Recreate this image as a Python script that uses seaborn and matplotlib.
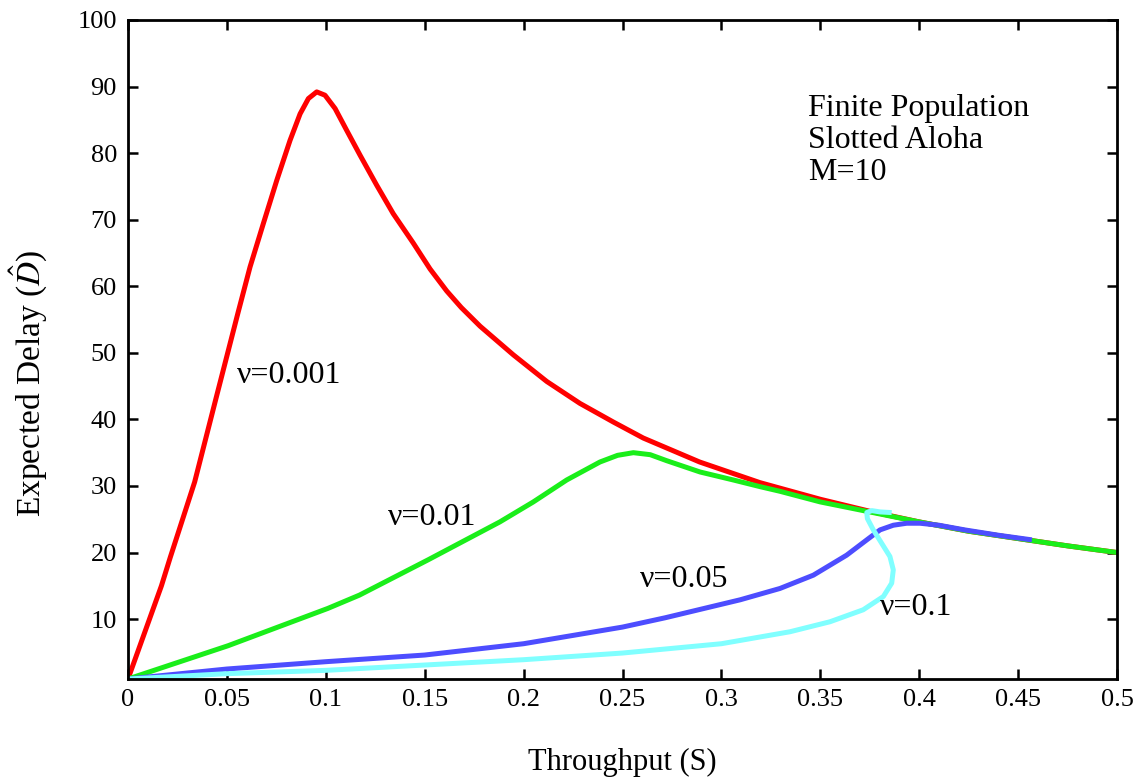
import matplotlib
matplotlib.use("Agg")
import matplotlib.pyplot as plt
import seaborn as sns
import pandas as pd

# ---- data ----
red_S = [0, 0.0169, 0.0214, 0.0337, 0.0447, 0.0556, 0.0617, 0.0684, 0.0752, 0.0819, 0.087,
         0.0912, 0.0954, 0.0996, 0.1047, 0.1106, 0.1173, 0.1257, 0.1341, 0.1442, 0.1527,
         0.1611, 0.1685, 0.178, 0.1948, 0.2117, 0.2285, 0.2454, 0.2605, 0.289, 0.3195, 0.35,
         0.375, 0.4, 0.425, 0.45, 0.475, 0.5]
red_D = [1, 15.0, 19.3, 30.6, 43.4, 56, 62.9, 69.4, 75.9, 81.9, 85.9,
         88.2, 89.2, 88.7, 86.7, 83.4, 79.7, 75.2, 70.9, 66.5, 62.6,
         59.3, 56.8, 54.0, 49.7, 45.7, 42.4, 39.6, 37.2, 33.6, 30.5, 28.0,
         26.2, 24.6, 23.2, 22.1, 21.0, 20.0]

green_S = [0, 0.0506, 0.101, 0.117, 0.1517, 0.188, 0.2049, 0.2218, 0.2386, 0.2475, 0.2555,
           0.264, 0.2723, 0.2892, 0.306, 0.3195, 0.3296, 0.35, 0.375, 0.4, 0.425, 0.45,
           0.475, 0.5]
green_D = [1, 6.0, 11.6, 13.6, 18.9, 24.6, 27.6, 30.9, 33.6, 34.6, 35.0,
           34.7, 33.8, 32.1, 30.9, 29.9, 29.2, 27.6, 26.1, 24.6, 23.2, 22.1,
           21.0, 20.0]

blue_S = [0, 0.05, 0.1, 0.15, 0.2, 0.25, 0.2716, 0.3095, 0.3296, 0.3465, 0.3633, 0.3735,
          0.3802, 0.3869, 0.3937, 0.4004, 0.41, 0.423, 0.44, 0.457]
blue_D = [1, 2.5, 3.6, 4.6, 6.3, 8.8, 10.2, 12.9, 14.6, 16.6, 19.6, 21.9,
          23.4, 24.1, 24.4, 24.4, 24.1, 23.4, 22.6, 21.9]

cyan_S = [0, 0.05, 0.1, 0.15, 0.2, 0.25, 0.3, 0.3347, 0.3549, 0.3717, 0.3819, 0.3861,
          0.3869, 0.3852, 0.381, 0.3768, 0.3738, 0.3735, 0.376, 0.3802, 0.3861]
cyan_D = [1, 1.8, 2.3, 3.1, 3.9, 4.9, 6.3, 8.1, 9.6, 11.4, 13.4, 15.4,
          17.4, 19.4, 21.4, 23.4, 25.1, 26.0, 26.3, 26.1, 26.0]

series_names = ["ν=0.001", "ν=0.01", "ν=0.05", "ν=0.1"]
series_colors = ["#ff0000", "#1aee1a", "#4d4dff", "#80ffff"]

x_ticks = [0, 0.05, 0.1, 0.15, 0.2, 0.25, 0.3, 0.35, 0.4, 0.45, 0.5]
x_tick_labels = ["0", "0.05", "0.1", "0.15", "0.2", "0.25", "0.3", "0.35", "0.4", "0.45", "0.5"]
y_ticks = [10, 20, 30, 40, 50, 60, 70, 80, 90, 100]
y_tick_labels = ["10", "20", "30", "40", "50", "60", "70", "80", "90", "100"]

note_lines = ["Finite Population", "Slotted Aloha", "M=10"]

# ---- style ----
sns.set_style("ticks")
plt.rcParams['font.family'] = ['Liberation Serif', 'DejaVu Serif']
plt.rcParams['mathtext.fontset'] = 'stix'
plt.rcParams['text.color'] = 'black'
plt.rcParams['axes.labelcolor'] = 'black'

fig = plt.figure(figsize=(11.39, 7.77), dpi=100)
ax = fig.add_axes([128/1139, 1 - 679/777, (1117-128)/1139, (679-20)/777])

data = [(red_S, red_D), (green_S, green_D), (blue_S, blue_D), (cyan_S, cyan_D)]
for (s, d), name, col in zip(data, series_names, series_colors):
    df = pd.DataFrame({"S": s, "D": d})
    sns.lineplot(data=df, x="S", y="D", sort=False, estimator=None, color=col,
                 linewidth=3.6, ax=ax, solid_capstyle='butt', solid_joinstyle='round')

ax.set_xlim(0, 0.5)
ax.set_ylim(1, 100)
ax.set_xticks(x_ticks)
ax.set_xticklabels(x_tick_labels)
ax.set_yticks(y_ticks)
ax.set_yticklabels(y_tick_labels)
ax.tick_params(direction='in', length=7, width=1.8, top=True, right=True,
               labelsize=19, colors='black')
ax.tick_params(axis='x', pad=7)
ax.tick_params(axis='y', pad=8)
for sp in ax.spines.values():
    sp.set_visible(True)
    sp.set_linewidth(2.0)
    sp.set_color('black')

ax.set_xlabel("Throughput (S)", fontsize=22, va='center')
ax.xaxis.set_label_coords(0.5, (679 - 762) / 659)
ax.set_ylabel(r"Expected Delay ($\hat{D}$)", fontsize=24, va='center')
ax.yaxis.set_label_coords((29 - 128) / 989, (679 - 383) / 659)

label_pos = [(0.055, 46.6), (0.1315, 25.3), (0.259, 15.9), (0.380, 11.7)]
for name, (x, y) in zip(series_names, label_pos):
    ax.text(x, y, name, fontsize=23, ha='left', va='center', color='black')

note_y = [86.7, 81.9, 77.1]
for line, y in zip(note_lines, note_y):
    ax.text(0.344, y, line, fontsize=23, ha='left', va='center', color='black')

fig.savefig("out.png", dpi=100)
